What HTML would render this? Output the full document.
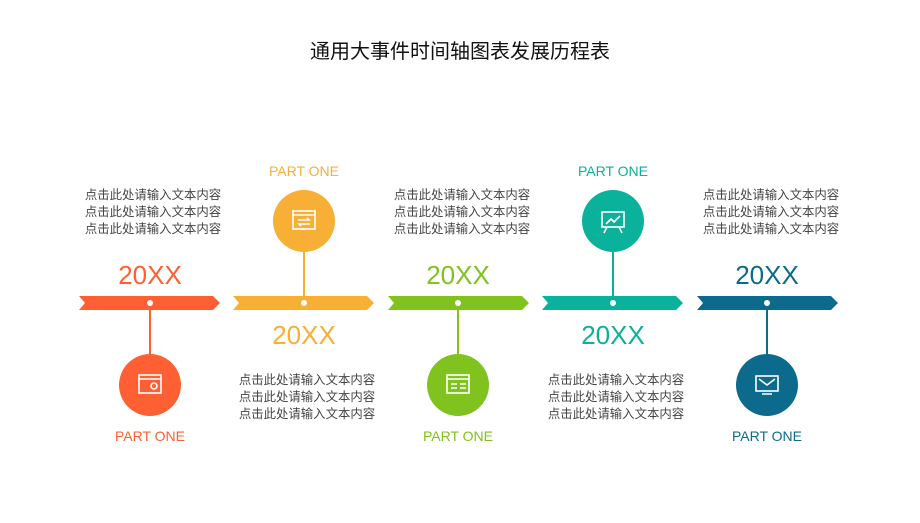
<!DOCTYPE html>
<html><head><meta charset="utf-8"><style>
body{margin:0;width:920px;height:518px;background:#fff;overflow:hidden;font-family:"Liberation Sans","Noto Sans CJK SC",sans-serif}
</style></head><body>
<svg width="920" height="518" xmlns="http://www.w3.org/2000/svg" font-family="Liberation Sans, Noto Sans CJK SC, sans-serif">
<text x="460" y="58" text-anchor="middle" font-size="20" fill="#111">通用大事件时间轴图表发展历程表</text>
<g id="segs">
<polygon points="79,296 213,296 220,303 213,310 79,310 85,303" fill="#FE5F33"/>
<polygon points="233,296 367,296 374,303 367,310 233,310 239,303" fill="#F8AF36"/>
<polygon points="388,296 522,296 529,303 522,310 388,310 394,303" fill="#80C21E"/>
<polygon points="542,296 676,296 683,303 676,310 542,310 548,303" fill="#0AB19B"/>
<polygon points="697,296 831,296 838,303 831,310 697,310 703,303" fill="#0C6A8D"/>
</g>
<g stroke-width="2">
<line x1="150" y1="303" x2="150" y2="360" stroke="#FE5F33"/>
<line x1="304" y1="245" x2="304" y2="303" stroke="#F8AF36"/>
<line x1="458" y1="303" x2="458" y2="360" stroke="#80C21E"/>
<line x1="613" y1="245" x2="613" y2="303" stroke="#0AB19B"/>
<line x1="767" y1="303" x2="767" y2="360" stroke="#0C6A8D"/>
</g>
<g fill="#fff"><circle cx="150" cy="303" r="3"/><circle cx="304" cy="303" r="3"/><circle cx="458" cy="303" r="3"/><circle cx="613" cy="303" r="3"/><circle cx="767" cy="303" r="3"/></g>
<circle cx="150" cy="385" r="31" fill="#FE5F33"/>
<circle cx="304" cy="221" r="31" fill="#F8AF36"/>
<circle cx="458" cy="385" r="31" fill="#80C21E"/>
<circle cx="613" cy="221" r="31" fill="#0AB19B"/>
<circle cx="767" cy="385" r="31" fill="#0C6A8D"/>
<g fill="none" stroke="#fff" stroke-width="1.6">
<rect x="139" y="375" width="22" height="18"/><line x1="139" y1="379" x2="161" y2="379"/><circle cx="154" cy="386" r="3"/>
<rect x="293" y="211" width="22" height="18"/><line x1="293" y1="215" x2="315" y2="215"/><path d="M298 220h11l-2-2M310 224h-11l2 2"/>
<rect x="447" y="375" width="22" height="18"/><line x1="447" y1="379" x2="469" y2="379"/><path d="M451 384h6M451 388h6M460 384h6M460 388h6"/>
<rect x="602" y="212" width="22" height="15"/><path d="M606 224l5-5 3 3 6-6M607 227l-3 6M619 227l3 6"/>
<rect x="756" y="376" width="22" height="15"/><path d="M759 379l8 6 8-6M762 394h10"/>
</g>
<g font-size="26" text-anchor="middle">
<text x="150" y="284" fill="#FE5F33">20XX</text>
<text x="304" y="344" fill="#F8AF36">20XX</text>
<text x="458" y="284" fill="#80C21E">20XX</text>
<text x="613" y="344" fill="#0AB19B">20XX</text>
<text x="767" y="284" fill="#0C6A8D">20XX</text>
</g>
<g font-size="14" text-anchor="middle">
<text x="150" y="441" fill="#FE5F33">PART ONE</text>
<text x="304" y="176" fill="#F8AF36">PART ONE</text>
<text x="458" y="441" fill="#80C21E">PART ONE</text>
<text x="613" y="176" fill="#0AB19B">PART ONE</text>
<text x="767" y="441" fill="#0C6A8D">PART ONE</text>
</g>
<g font-size="12.4" fill="#444" text-anchor="middle">
<text x="153" y="199">点击此处请输入文本内容</text><text x="153" y="216">点击此处请输入文本内容</text><text x="153" y="233">点击此处请输入文本内容</text>
<text x="462" y="199">点击此处请输入文本内容</text><text x="462" y="216">点击此处请输入文本内容</text><text x="462" y="233">点击此处请输入文本内容</text>
<text x="771" y="199">点击此处请输入文本内容</text><text x="771" y="216">点击此处请输入文本内容</text><text x="771" y="233">点击此处请输入文本内容</text>
<text x="307" y="384">点击此处请输入文本内容</text><text x="307" y="401">点击此处请输入文本内容</text><text x="307" y="418">点击此处请输入文本内容</text>
<text x="616" y="384">点击此处请输入文本内容</text><text x="616" y="401">点击此处请输入文本内容</text><text x="616" y="418">点击此处请输入文本内容</text>
</g>
</svg>
</body></html>
